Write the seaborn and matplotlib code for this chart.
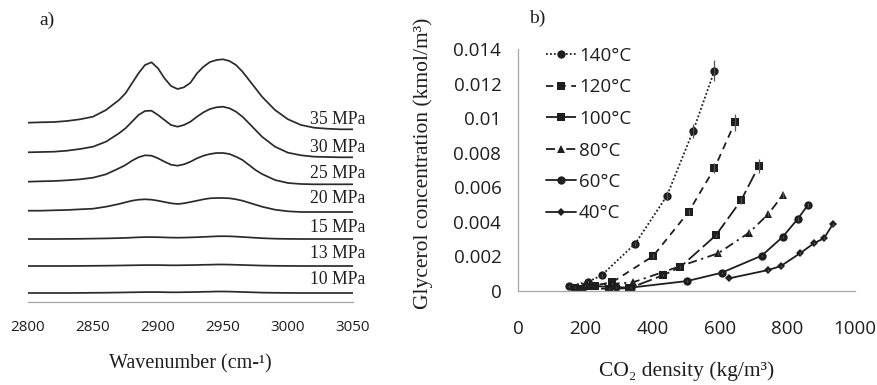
import numpy as np
import pandas as pd
import matplotlib
matplotlib.use("Agg")
import matplotlib.pyplot as plt
import seaborn as sns

# ---------------- data: panel a (Raman-type spectra, arbitrary offset units) ----------------
wavenumber = [2800, 2810, 2820, 2830, 2840, 2850, 2860, 2870, 2875, 2880, 2885, 2890, 2895,
              2900, 2905, 2910, 2915, 2920, 2925, 2930, 2935, 2940, 2945, 2950, 2955, 2960,
              2965, 2970, 2975, 2980, 2990, 3000, 3010, 3020, 3030, 3040, 3050]
spec_35 = [179.3, 179.7, 180.0, 181.0, 182.7, 185.3, 192.0, 202.0, 208.7, 218.7, 228.7, 237.0, 239.7,
           233.7, 223.7, 216.0, 213.0, 214.7, 219.3, 228.7, 235.3, 240.0, 242.0, 242.7, 241.0, 237.0,
           230.3, 222.0, 213.7, 205.3, 192.0, 182.7, 177.0, 174.3, 173.3, 172.7, 172.7]
spec_30 = [149.7, 150.0, 150.3, 151.3, 153.0, 155.3, 160.3, 168.7, 173.7, 180.3, 187.0, 191.0, 191.3,
           187.0, 182.0, 177.0, 175.3, 177.0, 180.3, 185.3, 189.7, 193.0, 194.7, 195.3, 193.7, 190.3,
           185.3, 178.7, 172.0, 165.3, 155.3, 149.3, 146.7, 145.3, 145.0, 144.7, 144.7]
spec_25 = [120.3, 120.7, 121.0, 121.7, 122.7, 124.3, 127.7, 133.7, 137.0, 141.3, 144.7, 146.7, 146.3,
           143.7, 140.3, 137.3, 136.3, 137.7, 140.3, 143.7, 146.3, 148.0, 149.0, 149.0, 148.0, 145.3,
           142.0, 137.0, 132.0, 128.0, 122.0, 119.0, 118.0, 117.7, 117.7, 117.7, 117.7]
spec_20 = [91.3, 91.3, 91.7, 92.0, 92.7, 93.3, 95.3, 98.0, 99.7, 101.3, 102.3, 102.7, 102.3,
           101.3, 100.0, 98.7, 98.0, 98.7, 100.0, 101.3, 102.7, 103.7, 104.0, 104.0, 103.7, 102.7,
           101.3, 99.3, 97.3, 95.3, 92.3, 90.7, 90.0, 90.0, 90.0, 90.0, 90.0]
spec_15 = [63.0, 63.0, 63.0, 63.1, 63.2, 63.4, 63.6, 63.9, 64.1, 64.4, 64.7, 64.9, 64.9,
           64.8, 64.6, 64.4, 64.3, 64.4, 64.6, 64.8, 65.1, 65.4, 65.7, 65.8, 65.7, 65.4,
           65.0, 64.6, 64.2, 63.8, 63.3, 63.1, 63.0, 63.0, 63.0, 63.0, 63.0]
spec_13 = [36.0, 36.0, 36.0, 36.0, 36.1, 36.2, 36.3, 36.5, 36.6, 36.7, 36.8, 36.9, 36.9,
           36.9, 36.8, 36.7, 36.7, 36.8, 36.9, 37.0, 37.2, 37.3, 37.5, 37.5, 37.4, 37.2,
           37.0, 36.8, 36.6, 36.4, 36.2, 36.1, 36.0, 36.0, 36.0, 36.0, 36.0]
spec_10 = [9.0, 9.0, 9.0, 9.0, 9.1, 9.2, 9.3, 9.5, 9.6, 9.7, 9.8, 9.9, 9.9,
           9.9, 9.8, 9.7, 9.7, 9.8, 9.9, 10.0, 10.2, 10.3, 10.5, 10.5, 10.4, 10.2,
           10.0, 9.8, 9.6, 9.4, 9.2, 9.1, 9.0, 9.0, 9.0, 9.0, 9.0]
pressure_labels = ["35 MPa", "30 MPa", "25 MPa", "20 MPa", "15 MPa", "13 MPa", "10 MPa"]
spectra = [spec_35, spec_30, spec_25, spec_20, spec_15, spec_13, spec_10]
wn_ticks = [2800, 2850, 2900, 2950, 3000, 3050]

# ---------------- data: panel b (glycerol solubility) ----------------
temp_labels = ["140°C", "120°C", "100°C", "80°C", "60°C", "40°C"]
dens_140 = [152, 208, 248, 348, 442, 520, 583]
conc_140 = [0.00027, 0.00052, 0.00089, 0.00273, 0.00551, 0.00928, 0.01276]
err_140 = [0.00005, 0.00005, 0.00008, 0.00012, 0.00025, 0.00040, 0.00060]
dens_120 = [168, 228, 280, 401, 506, 583, 644]
conc_120 = [0.00018, 0.00030, 0.00050, 0.00201, 0.00456, 0.00710, 0.00977]
err_120 = [0.00003, 0.00004, 0.00005, 0.00010, 0.00015, 0.00030, 0.00050]
dens_100 = [190, 270, 330, 431, 481, 587, 662, 715]
conc_100 = [0.00012, 0.00012, 0.00014, 0.00090, 0.00136, 0.00321, 0.00524, 0.00725]
err_100 = [0.00003, 0.00003, 0.00003, 0.00005, 0.00006, 0.00010, 0.00020, 0.00040]
dens_80 = [215, 280, 340, 594, 686, 742, 786]
conc_80 = [0.00030, 0.00040, 0.00048, 0.00217, 0.00337, 0.00443, 0.00555]
err_80 = [0.00003, 0.00003, 0.00003, 0.00008, 0.00010, 0.00012, 0.00020]
dens_60 = [200, 290, 335, 502, 604, 723, 785, 830, 861]
conc_60 = [0.00030, 0.00020, 0.00018, 0.00056, 0.00104, 0.00203, 0.00311, 0.00416, 0.00499]
err_60 = [0.00003, 0.00003, 0.00003, 0.00004, 0.00005, 0.00006, 0.00008, 0.00010, 0.00012]
dens_40 = [627, 743, 780, 837, 878, 908, 934]
conc_40 = [0.00072, 0.00120, 0.00143, 0.00217, 0.00275, 0.00304, 0.00385]
err_40 = [0.00003, 0.00003, 0.00004, 0.00005, 0.00006, 0.00006, 0.00008]

# ---------------- styling ----------------
sns.set_theme(style="white")
plt.rcParams["font.family"] = ["Open Sans", "DejaVu Sans"]
SERIF = ["Liberation Serif", "DejaVu Serif"]
INK = "#1e1e1e"
AXIS_GRAY = "#a6a6a6"

fig = plt.figure(figsize=(8.78, 3.85), dpi=100)

# ---------------- panel a ----------------
axA = fig.add_axes([28 / 878, (385 - 302) / 385, 325 / 878, 262 / 385])
for lab, ys in zip(pressure_labels, spectra):
    df = pd.DataFrame({"wn": wavenumber, "I": ys})
    sns.lineplot(data=df, x="wn", y="I", ax=axA, color="#2a2a2a", linewidth=1.25)
axA.set_xlim(2800, 3050)
axA.set_ylim(0, 262)
axA.set_yticks([])
axA.set_xticks(wn_ticks)
axA.set_xticklabels([str(t) for t in wn_ticks], fontsize=11, color=INK)
axA.tick_params(axis="x", direction="inout", length=6, width=0.8, color=AXIS_GRAY, pad=10)
for s in ["left", "right", "top"]:
    axA.spines[s].set_visible(False)
axA.spines["bottom"].set_color(AXIS_GRAY)
axA.spines["bottom"].set_linewidth(0.9)
axA.set_xlabel("Wavenumber (cm-¹)", family=SERIF, fontsize=14.5, color=INK, labelpad=14)
axA.set_ylabel("")
# curve labels at the right end
label_centres = [120, 147, 173, 199, 228, 254, 279]   # pixel rows of label centres
for lab, yc in zip(pressure_labels, label_centres):
    fig.text(365 / 878, 1 - yc / 385, lab, family=SERIF, fontsize=12.7, color=INK,
             ha="right", va="center")
fig.text(47 / 878, 1 - 20 / 385, "a)", family=SERIF, fontsize=14, color=INK,
         ha="center", va="center")

# ---------------- panel b ----------------
axB = fig.add_axes([518 / 878, (385 - 290.7) / 385, 337 / 878, 241.4 / 385])
series = [
    (dens_140, conc_140, err_140, (0, (1, 1.2)), "o", 6.0),
    (dens_120, conc_120, err_120, (0, (4, 3)), "s", 5.5),
    (dens_100, conc_100, err_100, (0, (8, 2.5)), "s", 5.5),
    (dens_80, conc_80, err_80, (0, (5, 2.5, 1.2, 2.5)), "^", 6.0),
    (dens_60, conc_60, err_60, "-", "o", 6.0),
    (dens_40, conc_40, err_40, "-", "D", 4.5),
]
for lab, (xs, ys, es, ls, mk, ms) in zip(temp_labels, series):
    df = pd.DataFrame({"d": xs, "c": ys})
    sns.lineplot(data=df, x="d", y="c", ax=axB, color=INK, linewidth=1.3,
                 linestyle=ls, marker=mk, markersize=ms, markeredgewidth=0,
                 label=lab, legend=False)
    axB.errorbar(xs, ys, yerr=es, fmt="none", ecolor="#555555", elinewidth=0.9,
                 capsize=0)
handles = [l for l in axB.get_lines() if l.get_label() in temp_labels]
axB.set_xlim(0, 1000)
axB.set_ylim(0, 0.014)
axB.set_xticks([0, 200, 400, 600, 800, 1000])
axB.set_yticks([0, 0.002, 0.004, 0.006, 0.008, 0.01, 0.012, 0.014])
axB.set_xticklabels(["0", "200", "400", "600", "800", "1000"], fontsize=13.5, color=INK)
axB.set_yticklabels(["0", "0.002", "0.004", "0.006", "0.008", "0.01", "0.012", "0.014"],
                    fontsize=13.5, color=INK)
axB.tick_params(axis="x", direction="out", length=6, width=0.9, color=AXIS_GRAY, pad=15)
axB.tick_params(axis="y", direction="out", length=5, width=0.9, color=AXIS_GRAY, pad=7)
for s in ["right", "top"]:
    axB.spines[s].set_visible(False)
for s in ["left", "bottom"]:
    axB.spines[s].set_color(AXIS_GRAY)
    axB.spines[s].set_linewidth(0.9)
axB.set_xlabel("CO₂ density (kg/m³)", family=SERIF, fontsize=15.5, color=INK, labelpad=17)
axB.set_ylabel("")
fig.text(423 / 878, 1 - 163 / 385, "Glycerol concentration (kmol/m³)", family=SERIF,
         fontsize=15.5, color=INK, rotation=90, ha="center", va="center")
fig.text(537 / 878, 1 - 18 / 385, "b)", family=SERIF, fontsize=14, color=INK,
         ha="center", va="center")

leg = axB.legend(handles=handles, labels=temp_labels, loc="upper left",
                 bbox_to_anchor=(546 / 878, 1 - 47 / 385), bbox_transform=fig.transFigure,
                 frameon=False, fontsize=13.5, handlelength=1.6, handletextpad=0.15,
                 labelspacing=0.72, borderpad=0, borderaxespad=0)
for t in leg.get_texts():
    t.set_color(INK)

fig.savefig("out.png", dpi=100)
